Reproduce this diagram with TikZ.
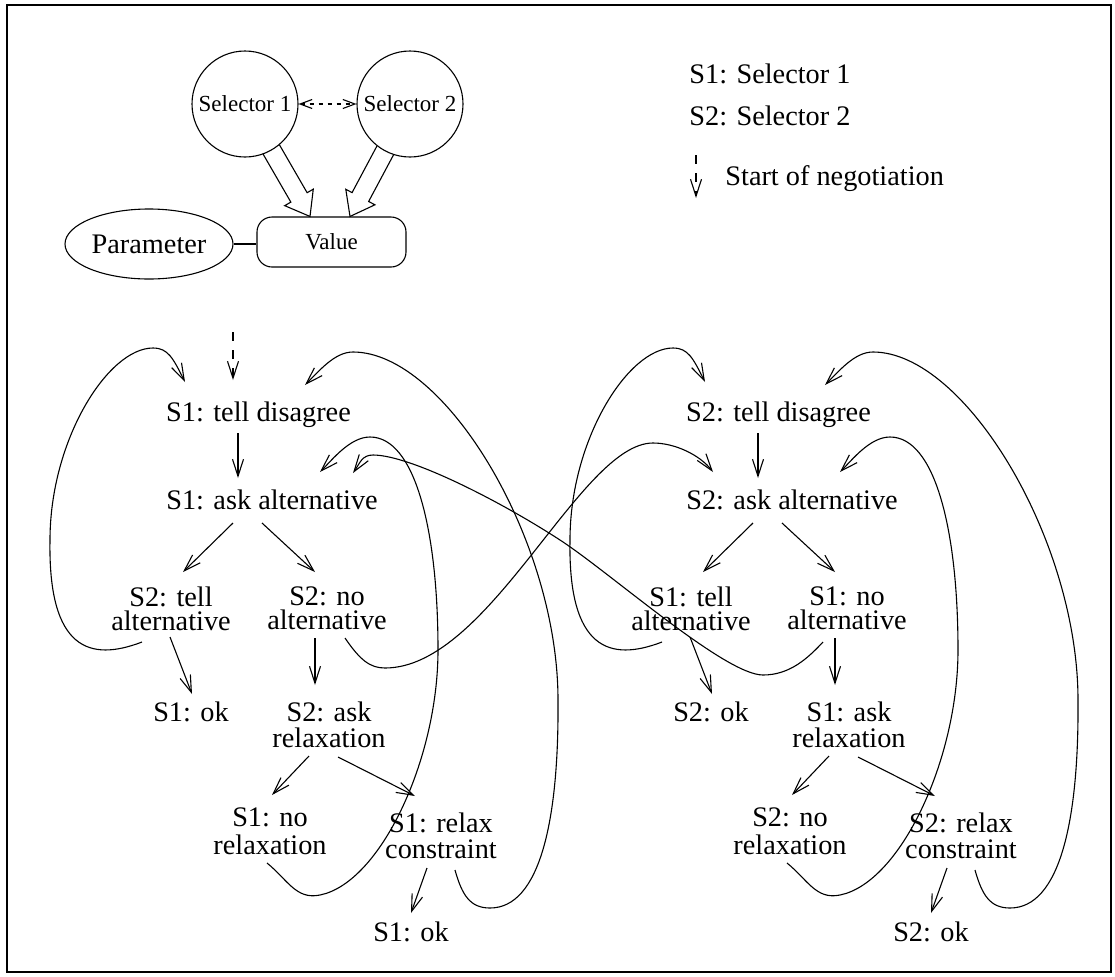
\documentclass[tikz,border=0pt]{standalone}
\usepackage{fontspec}
\setmainfont{Liberation Serif}
\usetikzlibrary{arrows.meta,calc,shapes.geometric}

\tikzset{
  ln/.style={line width=0.55pt},
  arr/.style={ln, -{Straight Barb[length=8.5pt,width=5.5pt]}},
  startarr/.style={arr, dash pattern=on 4.5pt off 4.5pt},
  bigfont/.style={font=\fontsize{14.15pt}{12pt}\selectfont},
  smallfont/.style={font=\fontsize{11.5pt}{13pt}\selectfont},
  lbl/.style={bigfont, inner sep=0pt, align=center},
  key/.style={bigfont, inner sep=0pt, anchor=base west},
  selector/.style={draw, ln, circle, minimum size=53pt, inner sep=0pt, smallfont},
}

% One negotiation tree: #1 horizontal shift, #2 name prefix,
% #3 selector that disagrees, #4 the other selector
\newcommand\negtree[4]{%
\begin{scope}[xshift=#1, name prefix=#2]
  \node[lbl] (td)  at (258.5,415) {#3: tell disagree};
  \node[lbl] (aa)  at (272,500)   {#3: ask alternative};
  \node[lbl] (ta)  at (171,608.5) {#4: tell\\alternative};
  \node[lbl] (na)  at (327,608.5) {#4: no\\alternative};
  \node[lbl] (ok1) at (191,712)   {#3: ok};
  \node[lbl] (ar)  at (329,725)   {#4: ask\\[1pt]relaxation};
  \node[lbl] (nr)  at (270,831.5) {#3: no\\[2pt]relaxation};
  \node[lbl] (rc)  at (441,836)   {#3: relax\\[1pt]constraint};
  \node[lbl] (ok2) at (411,932)   {#3: ok};
  % tree edges
  \draw[arr] ($(td)+(-20.5,18)$) -- ($(aa)+(-34,-22)$);
  \draw[arr] ($(aa)+(-39,23)$)   -- ($(ta)+(12,-36.5)$);
  \draw[arr] ($(aa)+(-10,23)$)   -- ($(na)+(-12,-36.5)$);
  \draw[arr] ($(ta)+(-1,28.5)$)  -- ($(ok1)+(1,-18)$);
  \draw[arr] ($(na)+(-12,29.5)$) -- ($(ar)+(-14,-40)$);
  \draw[arr] ($(ar)+(-20,31)$)   -- ($(nr)+(2,-36.5)$);
  \draw[arr] ($(ar)+(9,32)$)     -- ($(rc)+(-26,-40)$);
  \draw[arr] ($(rc)+(-14,32)$)   -- ($(ok2)+(0,-19)$);
  % loops back to the top of the tree
  \draw[arr] ($(ta)+(-29,33.5)$) .. controls (90,662) and (48,650) .. (50,540)
     .. controls (50,440) and (108,348) .. (153,348)
     .. controls (168,348) and (173,358) .. ($(td)+(-73.5,-33)$);
  \draw[arr] ($(nr)+(-3,31.5)$) .. controls (288,880) and (296,900) .. (320,895)
     .. controls (380,883) and (438,760) .. (438,650)
     .. controls (438,530) and (415,437) .. (370,437)
     .. controls (350,437) and (332,460) .. ($(aa)+(48,-28)$);
  \draw[arr] ($(rc)+(14,34)$) .. controls (462,895) and (470,908) .. (490,908)
     .. controls (540,908) and (559,820) .. (558,700)
     .. controls (558,540) and (445,352) .. (353,352)
     .. controls (335,352) and (320,370) .. ($(td)+(46.5,-30)$);
\end{scope}}

\begin{document}
\begin{tikzpicture}[x=0.5pt, y=-0.5pt]
  \useasboundingbox (0,0) rectangle (1115,976);
  \draw[line width=1pt] (7,5) rectangle (1111,972);

  % selectors, value and parameter
  \node[selector] (sel1) at (245,104) {Selector 1};
  \node[selector] (sel2) at (410,104) {Selector 2};
  \node[draw, ln, rounded corners=7.5pt, minimum width=74.5pt, minimum height=25pt,
        inner sep=0pt, smallfont] (val) at (331.5,242) {Value};
  \node[draw, ln, ellipse, minimum width=84pt, minimum height=35pt, inner sep=0pt,
        bigfont] (par) at (149,244) {Parameter};
  \draw[ln] (par.east) -- (par.east -| val.west);
  \draw[ln, dash pattern=on 2pt off 2.5pt,
        {Straight Barb[length=6pt,width=4.5pt]}-{Straight Barb[length=6pt,width=4.5pt]}]
        (sel1) -- (sel2);

  % hollow block arrows from the selectors onto the value
  \coordinate (t1) at ($(val.north)+(-21.5,0)$);
  \coordinate (t2) at ($(val.north)+(18.5,0)$);
  \coordinate (s1) at ($(sel1)!26.25pt!(t1)$);
  \coordinate (s2) at ($(sel2)!26.25pt!(t2)$);
  \coordinate (h1) at ($(t1)!11pt!(s1)$);
  \coordinate (h2) at ($(t2)!11pt!(s2)$);
  \draw[ln, line join=miter] ($(s1)!4.7pt!90:(t1)$) -- ($(h1)!4.7pt!90:(t1)$)
     -- ($(h1)!8.25pt!90:(t1)$) -- (t1) -- ($(h1)!8.25pt!-90:(t1)$)
     -- ($(h1)!4.7pt!-90:(t1)$) -- ($(s1)!4.7pt!-90:(t1)$);
  \draw[ln, line join=miter] ($(s2)!4.7pt!90:(t2)$) -- ($(h2)!4.7pt!90:(t2)$)
     -- ($(h2)!8.25pt!90:(t2)$) -- (t2) -- ($(h2)!8.25pt!-90:(t2)$)
     -- ($(h2)!4.7pt!-90:(t2)$) -- ($(s2)!4.7pt!-90:(t2)$);

  % key
  \node[key] (k1) at (689,83.3) {S1: Selector 1};
  \node[key] (k2) at (689,125) {S2: Selector 2};
  \coordinate (ka) at (696,155);
  \coordinate (kb) at (696,198);
  \draw[startarr] (ka) -- (kb);
  \node[key] (k3) at (725,185) {Start of negotiation};

  % the two negotiation trees
  \negtree{0pt}{L-}{S1}{S2}
  \negtree{260pt}{R-}{S2}{S1}

  % start of negotiation
  \coordinate (go) at (233,332);
  \draw[startarr] (go) -- ($(L-td)+(-25.5,-35)$);

  % hand-over from one tree to the other
  \draw[arr] ($(L-na)+(18,29.5)$) .. controls (360,660) and (370,668) .. (385,668)
     .. controls (490,668) and (580,443) .. (653,443)
     .. controls (675,443) and (700,455) .. ($(R-aa)+(-79,-28)$);
  \draw[arr] ($(R-na)+(-24,33.5)$) .. controls (808,658) and (790,675) .. (763,675)
     .. controls (725,675) and (610,572.5) .. (560,540)
     .. controls (500,501) and (410,455) .. (373,455)
     .. controls (362,455) and (360,463) .. ($(L-aa)+(81,-27)$);
\end{tikzpicture}
\end{document}
